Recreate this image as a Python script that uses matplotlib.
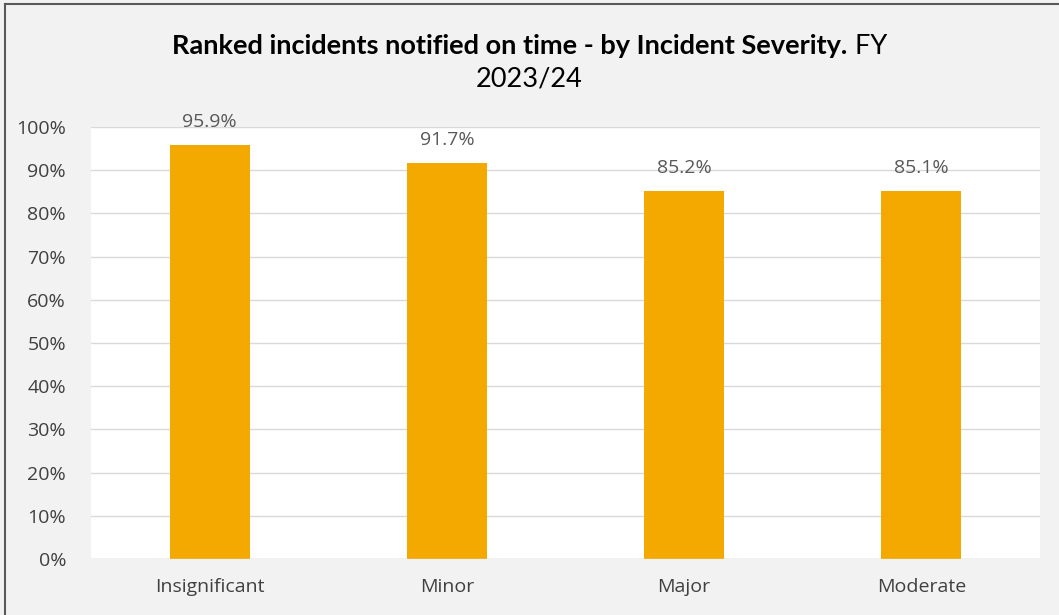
import matplotlib.pyplot as plt
from matplotlib.ticker import PercentFormatter
from matplotlib.lines import Line2D

# datos
categorias = ["Insignificant", "Minor", "Major", "Moderate"]
valores = [0.959, 0.917, 0.852, 0.851]
etiquetas = ["95.9%", "91.7%", "85.2%", "85.1%"]

plt.rcParams['font.family'] = ['Open Sans', 'DejaVu Sans']

fig = plt.figure(figsize=(10.59, 6.15), dpi=100, facecolor='#F2F2F2')
ax = fig.add_axes([91 / 1059, 1 - 559 / 615, (1040 - 91) / 1059, (559 - 127) / 615])
ax.set_facecolor('white')

x = range(len(categorias))
barras = ax.bar(x, valores, width=0.337, color='#F4A900', zorder=3)
for xi, v, t in zip(x, valores, etiquetas):
    ax.text(xi, v + 0.053, t, ha='center', va='center', fontsize=14, color='#595959')

ax.set_xlim(-0.5, 3.5)
ax.set_ylim(0, 1)
ax.set_yticks([i / 10 for i in range(11)])
ax.yaxis.set_major_formatter(PercentFormatter(1.0, decimals=0))
ax.set_xticks(list(x))
ax.set_xticklabels(categorias)
ax.tick_params(axis='both', length=0, labelsize=14, labelcolor='#404040')
ax.tick_params(axis='x', pad=14)
ax.tick_params(axis='y', pad=18)
ax.grid(axis='y', color='#D9D9D9', linewidth=1, zorder=0)
for s in ax.spines.values():
    s.set_visible(False)
ax.axhline(0, color='#D9D9D9', linewidth=1, zorder=4)

# titulo con parte en negrita
fuente_titulo = ['Lato', 'DejaVu Sans']
t1 = fig.text(0.5, 1 - 46 / 615, "Ranked incidents notified on time - by Incident Severity.",
              ha='center', va='center', fontsize=19.5, fontweight='bold', color='black', family=fuente_titulo)
t2 = fig.text(0.5, 1 - 46 / 615, " FY", ha='left', va='center', fontsize=19.5, color='black', family=fuente_titulo)
fig.canvas.draw()
r = fig.canvas.get_renderer()
w1 = t1.get_window_extent(r).width
w2 = t2.get_window_extent(r).width
total = w1 + w2
izq = 0.5 * 1059 - total / 2
t1.set_ha('left')
t1.set_x(izq / 1059)
t2.set_x((izq + w1) / 1059)
fig.text(0.5, 1 - 79 / 615, "2023/24", ha='center', va='center', fontsize=19.5, color='black', family=fuente_titulo)

# borde
fig.add_artist(Line2D([5 / 1059, 5 / 1059], [0, 1 - 4 / 615], transform=fig.transFigure, color='#595959', linewidth=1.5))
fig.add_artist(Line2D([5 / 1059, 1], [1 - 4 / 615, 1 - 4 / 615], transform=fig.transFigure, color='#595959', linewidth=1.5))

fig.savefig("out.png", dpi=100, facecolor=fig.get_facecolor())
